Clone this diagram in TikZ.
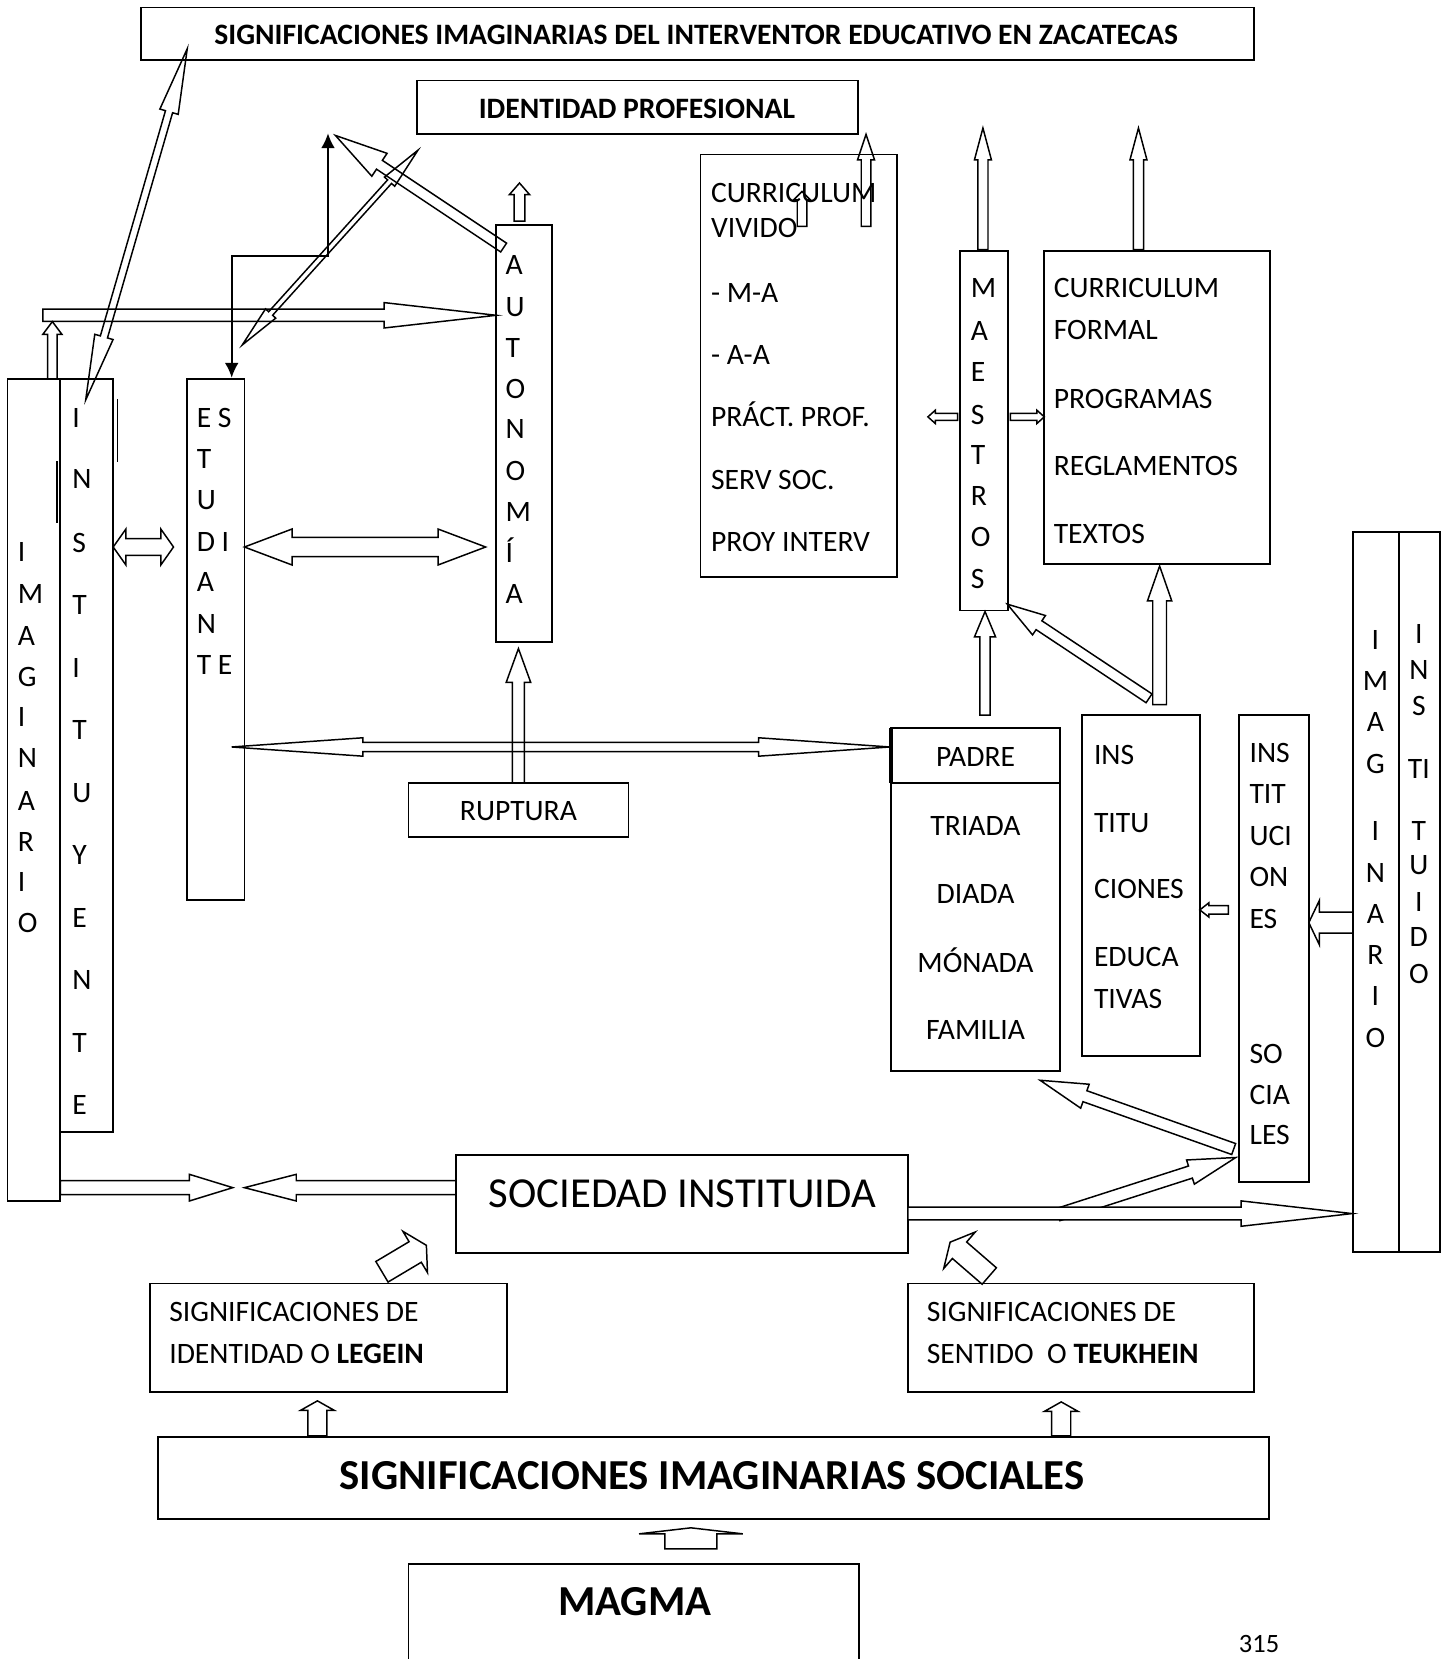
\documentclass[tikz,border=0pt]{standalone}
\usepackage{fontspec}
\setmainfont{Carlito}
\usetikzlibrary{arrows.meta,calc}

\tikzset{
 box/.style={draw, line width=1.7pt, anchor=north west, inner sep=0pt, outer sep=0pt},
 txt/.style={inner sep=0pt, outer sep=0pt, font=\fontsize{28}{33}\selectfont},
 big/.style={inner sep=0pt, outer sep=0pt, font=\fontsize{40.4}{48}\selectfont},
 arr/.style={draw, line width=1.4pt, line join=miter},
 blk/.style={line width=1.7pt, {Latex[length=14pt,width=13pt]}-{Latex[length=14pt,width=13pt]}},
}

\newcommand\bx[5]{\node[box, minimum width={#4-#2}, minimum height={#5-#3}] (#1) at (#2,#3) {};}
\newcommand\tl[4]{\node[txt, anchor=base west] (#1) at (#2,#3+8.8) {#4};}
\newcommand\tc[4]{\node[txt, anchor=base] (#1) at (#2,#3+8.8) {#4};}

\newcommand\getang[2]{%
 \path (#1) coordinate (baA) (#2) coordinate (baB);%
 \pgfpointdiff{\pgfpointanchor{baA}{center}}{\pgfpointanchor{baB}{center}}%
 \pgfgetlastxy{\bdx}{\bdy}%
 \pgfmathsetmacro\bang{atan2(\bdy,\bdx)}%
 \pgfmathsetmacro\blen{veclen(\bdx,\bdy)}%
}
% [opts]{from}{to}{shaft half}{head half}{head length}
\newcommand\barrow[6][]{\getang{#2}{#3}%
 \draw[arr,#1,shift={(baA)},rotate=\bang,x=1pt,y=1pt] (0,-#4) -- ({\blen-#6},-#4) -- ({\blen-#6},-#5) -- (\blen,0) -- ({\blen-#6},#5) -- ({\blen-#6},#4) -- (0,#4) -- cycle;}
\newcommand\dbarrow[6][]{\getang{#2}{#3}%
 \draw[arr,#1,shift={(baA)},rotate=\bang,x=1pt,y=1pt] (0,0) -- (#6,#5) -- (#6,#4) -- ({\blen-#6},#4) -- ({\blen-#6},#5) -- (\blen,0) -- ({\blen-#6},-#5) -- ({\blen-#6},-#4) -- (#6,-#4) -- (#6,-#5) -- cycle;}

\begin{document}
\begin{tikzpicture}[x=1pt,y=-1pt]
\useasboundingbox (0,0) rectangle (1370,1568);

% ---------------- boxes
\bx{title}{133}{7}{1185}{57}
\bx{idprof}{394}{76}{811}{127}
\bx{imagL}{7}{358}{57}{1135}
\bx{instL}{57}{358}{107}{1070}
\bx{estud}{177}{358}{231}{851}
\bx{auto}{469}{213}{522}{607}
\bx{ruptura}{386}{740}{594}{791}
\bx{curviv}{662}{146}{848}{545}
\bx{maest}{907}{237}{953}{577}
\bx{curform}{987}{237}{1200}{533}
\bx{padre}{842}{688}{1002}{1012}
\bx{insted}{1023}{676}{1134}{998}
\bx{inssoc}{1171}{676}{1237}{1117}
\bx{imagR}{1279}{503}{1322}{1183}
\bx{instR}{1322}{503}{1361}{1183}
\bx{soc}{431}{1092}{858}{1184}
\bx{legein}{142}{1213}{479}{1316}
\bx{teuk}{858}{1213}{1185}{1316}
\bx{sis}{149}{1358}{1199}{1436}
\bx{magma}{386}{1478}{812}{1590}

\draw[line width=1.7pt] (842,740) -- (1002,740);
\draw[line width=3.5pt] (842,688) -- (842,740);
\draw[line width=1.7pt] (111,377) -- (111,437);
\draw[line width=1.7pt] (54,436) -- (54,494);

% ---------------- texts
\tc{titlet}{658}{33}{\textbf{SIGNIFICACIONES IMAGINARIAS DEL INTERVENTOR EDUCATIVO EN ZACATECAS}}
\tc{idproft}{602}{103}{\textbf{IDENTIDAD PROFESIONAL}}
\tc{ruptt}{490}{767}{RUPTURA}

\foreach \l/\y [count=\i] in {I/522,M/562,A/601,G/640,I/678,N/717,A/757,R/796,I/834,O/873}
  \node[txt,anchor=base west] (imL\i) at (17,\y+8.8) {\l};
\foreach \l/\y [count=\i] in {I/395,N/453,S/513,T/572,I/632,T/690,U/750,Y/808,E/868,N/926,T/986,E/1045}
  \node[txt,anchor=base west] (inL\i) at (68.5,\y+8.8) {\l};
\foreach \l/\y [count=\i] in {E S/395,T/434,U/473,D I/512,A/550,N/590,T E/629}
  \node[txt,anchor=base west] (es\i) at (186,\y+8.8) {\l};
\foreach \l/\y [count=\i] in {A/251,U/290,T/329,O/368,N/406,O/445,M/484,Í/523,A/562}
  \node[txt,anchor=base west] (au\i) at (478,\y+8.8) {\l};
\foreach \l/\y [count=\i] in {M/272,A/313,E/352,S/392,T/430,R/469,O/508,S/547}
  \node[txt,anchor=base west] (ma\i) at (917.5,\y+8.8) {\l};
\foreach \l/\y [count=\i] in {I/605,M/644,A/683,G/722,I/786,N/825,A/864,R/903,I/942,O/981}
  \node[txt,anchor=base] (imR\i) at (1300,\y+8.8) {\l};
\foreach \l/\y [count=\i] in {I/599,N/633,S/667,TI/727,T/786,U/818,I/853,D/886,O/921}
  \node[txt,anchor=base] (inR\i) at (1341,\y+8.8) {\l};

\tl{cv1}{672}{183}{CURRICULUM}
\tl{cv2}{672}{216}{VIVIDO}
\tl{cv3}{672}{277}{- M-A}
\tl{cv4}{672}{336}{- A-A}
\tl{cv5}{672}{394}{PRÁCT. PROF.}
\tl{cv6}{672}{454}{SERV SOC.}
\tl{cv7}{672}{512}{PROY INTERV}

\tl{cf1}{996}{272}{CURRICULUM}
\tl{cf2}{996}{312}{FORMAL}
\tl{cf3}{996}{377}{PROGRAMAS}
\tl{cf4}{996}{441}{REGLAMENTOS}
\tl{cf5}{996}{505}{TEXTOS}

\tc{pd1}{922}{716}{PADRE}
\tc{pd2}{922}{781}{TRIADA}
\tc{pd3}{922}{845}{DIADA}
\tc{pd4}{922}{910}{MÓNADA}
\tc{pd5}{922}{974}{FAMILIA}

\tl{ie1}{1034}{714}{INS}
\tl{ie2}{1034}{778}{TITU}
\tl{ie3}{1034}{840}{CIONES}
\tl{ie4}{1034}{905}{EDUCA}
\tl{ie5}{1034}{944}{TIVAS}

\tl{is1}{1181}{712}{INS}
\tl{is2}{1181}{751}{TIT}
\tl{is3}{1181}{790}{UCI}
\tl{is4}{1181}{829}{ON}
\tl{is5}{1181}{869}{ES}
\tl{is6}{1181}{996}{SO}
\tl{is7}{1181}{1035}{CIA}
\tl{is8}{1181}{1073}{LES}

\node[big,anchor=base] (soct) at (645,1141) {SOCIEDAD INSTITUIDA};
\tl{lg1}{160}{1240}{SIGNIFICACIONES DE}
\tl{lg2}{160}{1280}{IDENTIDAD O \textbf{LEGEIN}}
\tl{tk1}{876}{1240}{SIGNIFICACIONES DE}
\tl{tk2}{876}{1280}{SENTIDO\ \ O \textbf{TEUKHEIN}}
\node[big,anchor=base] (sist) at (673,1408) {\textbf{SIGNIFICACIONES IMAGINARIAS SOCIALES}};
\node[big,anchor=base] (magt) at (600,1527) {\textbf{MAGMA}};
\node[inner sep=0pt,font=\fontsize{25}{30}\selectfont,anchor=base] (pg) at (1190,1562) {315};

% ---------------- connector end points
\coordinate (a1s) at (81,378);   \coordinate (a1e) at (177,46);
\coordinate (a2s) at (49.5,358); \coordinate (a2e) at (49.5,304);
\coordinate (a3s) at (40.5,298); \coordinate (a3e) at (469,298);
\coordinate (c4t) at (310,126);  \coordinate (c4k) at (310,242);
\coordinate (c4e) at (219,357);
\coordinate (a5s) at (476,234);  \coordinate (a5e) at (317,128);
\coordinate (a6s) at (229,326);  \coordinate (a6e) at (395,142);
\coordinate (a7s) at (491,209);  \coordinate (a7e) at (491,173);
\coordinate (a8s) at (107,517);  \coordinate (a8e) at (164,517);
\coordinate (a9s) at (231,517);  \coordinate (a9e) at (459,517);
\coordinate (a10s) at (219,706); \coordinate (a10e) at (841,706);
\coordinate (a11s) at (490,740); \coordinate (a11e) at (490,613);
\coordinate (a12s) at (758,214); \coordinate (a12e) at (758,181);
\coordinate (a13s) at (818.5,214); \coordinate (a13e) at (818.5,127);
\coordinate (a14s) at (929,236); \coordinate (a14e) at (929,121);
\coordinate (a15s) at (1076,236); \coordinate (a15e) at (1076,121);
\coordinate (a16s) at (905,394); \coordinate (a16e) at (877,394);
\coordinate (a17s) at (955,394); \coordinate (a17e) at (987,394);
\coordinate (a18s) at (931,676); \coordinate (a18e) at (931,578);
\coordinate (a19s) at (1086,660); \coordinate (a19e) at (952,571);
\coordinate (a20s) at (1096,666); \coordinate (a20e) at (1096,535);
\coordinate (a21s) at (1161,860); \coordinate (a21e) at (1134,860);
\coordinate (a22s) at (1279,872); \coordinate (a22e) at (1237,872);
\coordinate (a23s) at (1000,1148); \coordinate (a23e) at (1168,1094);
\coordinate (a24s) at (858,1147); \coordinate (a24e) at (1278,1147);
\coordinate (a26s) at (1166,1086); \coordinate (a26e) at (983,1021);
\coordinate (a27s) at (57,1122.5); \coordinate (a27e) at (220,1122.5);
\coordinate (a28s) at (431,1122.5); \coordinate (a28e) at (231,1122.5);
\coordinate (a29s) at (361,1202); \coordinate (a29e) at (403,1177);
\coordinate (a30s) at (935,1206); \coordinate (a30e) at (898,1174);
\coordinate (a31s) at (300,1357); \coordinate (a31e) at (300,1324);
\coordinate (a32s) at (1003,1357); \coordinate (a32e) at (1003,1325);
\coordinate (a33s) at (653,1464); \coordinate (a33e) at (653,1444);

% ---------------- connectors
\dbarrow{a1s}{a1e}{3.5}{9}{62}
\barrow{a2s}{a2e}{4.5}{9}{12}
\barrow{a3s}{a3e}{5.8}{12}{106}
\draw[blk] (c4t) -- (c4k) -| (c4e);
\barrow{a5s}{a5e}{5}{13}{50}
\dbarrow{a6s}{a6e}{2.5}{6.5}{40}
\barrow{a7s}{a7e}{5}{9.6}{11}
\dbarrow{a8s}{a8e}{8}{17}{12}
\dbarrow{a9s}{a9e}{9}{17}{45}
\dbarrow{a10s}{a10e}{4.4}{8.7}{124}
\barrow{a11s}{a11e}{5.7}{11.6}{32}
\barrow{a12s}{a12e}{4.5}{8}{8}
\barrow{a13s}{a13e}{4.5}{8}{24}
\barrow{a14s}{a14e}{4.8}{8}{30}
\barrow{a15s}{a15e}{4.8}{8}{30}
\barrow{a16s}{a16e}{3.3}{6.3}{7}
\barrow{a17s}{a17e}{3.3}{6.3}{7}
\barrow{a18s}{a18e}{4.8}{10}{24}
\barrow{a19s}{a19e}{5}{11}{36}
\barrow{a20s}{a20e}{6.5}{11.5}{33}
\barrow{a21s}{a21e}{4}{6.7}{8.5}
\barrow{a22s}{a22e}{10}{21}{10}
\barrow{a23s}{a23e}{6}{12}{45}
\barrow[fill=white]{a24s}{a24e}{6}{12}{105}
\barrow{a26s}{a26e}{5.5}{12}{45}
\barrow{a27s}{a27e}{6.6}{12.6}{41}
\barrow{a28s}{a28e}{6.6}{12.6}{49}
\barrow{a29s}{a29e}{11.3}{22.7}{12.3}
\barrow{a30s}{a30e}{10.3}{22.8}{11.7}
\barrow{a31s}{a31e}{9}{16}{9}
\barrow{a32s}{a32e}{9}{16}{9}
\barrow{a33s}{a33e}{24.5}{49}{5.7}
\end{tikzpicture}
\end{document}
